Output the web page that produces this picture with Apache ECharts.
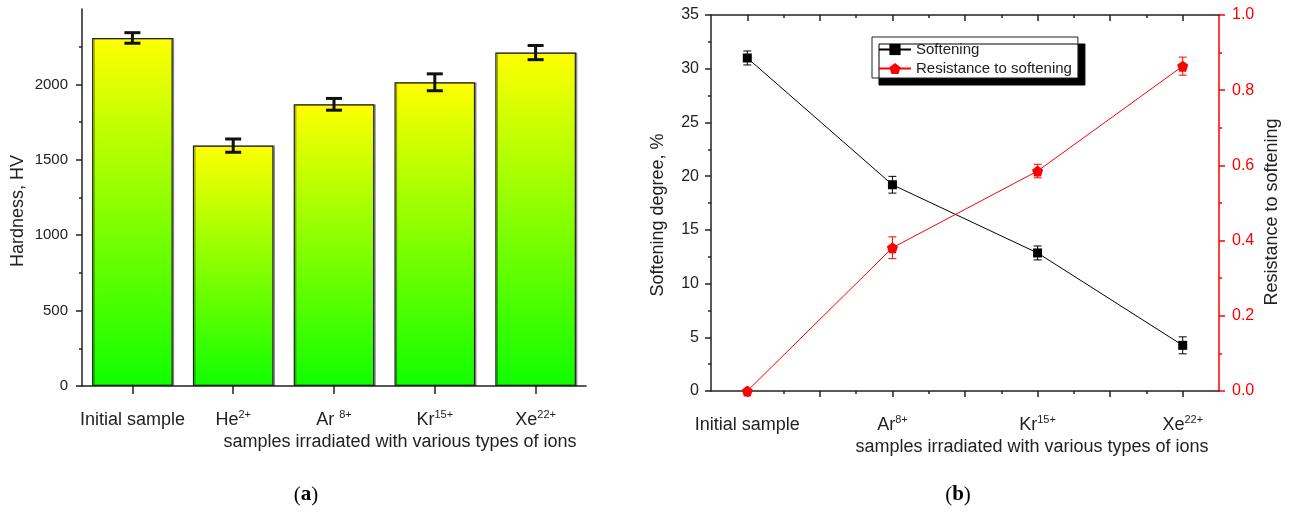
<!DOCTYPE html>
<html>
<head>
<meta charset="utf-8">
<script src="https://cdn.jsdelivr.net/npm/echarts@6/dist/echarts.min.js"></script>
<style>
html,body{margin:0;padding:0;background:#fff;}
#main{width:1290px;height:513px;}
</style>
</head>
<body>
<div id="main"></div>
<script>
// panel (a)
var catsA = ['Initial sample', 'He', 'Ar ', 'Kr', 'Xe'];
var chargeA = ['', '2+', '8+', '15+', '22+'];
var hardness = [2308, 1594, 1868, 2014, 2211];
var hardnessErr = [35, 44, 39, 56, 47];

// panel (b)
var catsB = ['Initial sample', 'Ar', 'Kr', 'Xe'];
var chargeB = ['', '8+', '15+', '22+'];
var softening = [31.0, 19.2, 12.85, 4.25];
var softeningErr = [0.65, 0.78, 0.65, 0.79];
var resistance = [0, 0.381, 0.585, 0.864];
var resistanceErr = [0, 0.029, 0.018, 0.024];

var font = "'Liberation Sans', Arial, sans-serif";
var pentagon = 'path://M0,-10 L9.51,-3.09 L5.88,8.09 L-5.88,8.09 L-9.51,-3.09 Z';

function supLabel(name, ch){
    return ch ? name + '{sup|' + ch + '}' : name;
}
var richSup = {
    sup: {fontSize: 11, lineHeight: 12, verticalAlign: 'top', color: '#222', fontFamily: font}
};

function errBar(cap, width, color){
    return function(params, api){
        var x = api.value(0), y = api.value(1), e = api.value(2);
        if(!e) return null;
        var t = api.coord([x, y + e]);
        var b = api.coord([x, y - e]);
        var st = {stroke: color, lineWidth: width};
        return {type: 'group', children: [
            {type: 'line', shape: {x1: t[0], y1: t[1], x2: b[0], y2: b[1]}, style: st},
            {type: 'line', shape: {x1: t[0] - cap, y1: t[1], x2: t[0] + cap, y2: t[1]}, style: st},
            {type: 'line', shape: {x1: b[0] - cap, y1: b[1], x2: b[0] + cap, y2: b[1]}, style: st}
        ]};
    };
}

var barData = hardness.map(function(v, i){ return [i, v, hardnessErr[i]]; });
var softData = softening.map(function(v, i){ return [i + 1, v]; });
var softErrData = softening.map(function(v, i){ return [i + 1, v, softeningErr[i]]; });
var resData = resistance.map(function(v, i){ return [i + 1, v]; });
var resErrData = resistance.map(function(v, i){ return [i + 1, v, resistanceErr[i]]; });

var blackLine = {lineStyle: {color: '#222', width: 1.5}};
var myChart = echarts.init(document.getElementById('main'));

var option = {
    animation: false,
    textStyle: {fontFamily: font},
    grid: [
        {left: 82, right: 704, top: 9, bottom: 127},
        {left: 711, right: 71, top: 15, bottom: 122}
    ],
    legend: {
        left: 872, top: 37,
        orient: 'vertical',
        data: ['Softening', 'Resistance to softening'],
        itemWidth: 32, itemHeight: 14, itemGap: 4,
        padding: [5, 6, 2, 6],
        backgroundColor: '#fff',
        borderColor: '#222', borderWidth: 1, borderRadius: 0,
        shadowColor: '#000', shadowOffsetX: 7, shadowOffsetY: 7, shadowBlur: 0,
        textStyle: {fontSize: 15, color: '#222', fontFamily: font}
    },
    xAxis: [
        {
            type: 'category', gridIndex: 0, data: catsA,
            axisLine: blackLine,
            axisTick: {length: 3, lineStyle: {color: '#222', width: 1.5}},
            axisLabel: {
                interval: 0, margin: 23, fontSize: 18, lineHeight: 22, color: '#222',
                formatter: function(v, i){ return supLabel(v, chargeA[i]); },
                rich: richSup
            }
        },
        {
            type: 'value', gridIndex: 0, min: 0, max: 5, position: 'bottom',
            axisLine: {show: false}, splitLine: {show: false}, axisLabel: {show: false},
            axisTick: {show: true, length: 8, customValues: [0.5, 1.5, 2.5, 3.5, 4.5],
                lineStyle: {color: '#222', width: 1.5}}
        },
        {
            type: 'value', gridIndex: 1, min: 0.75, max: 4.25, position: 'bottom',
            axisLine: blackLine, splitLine: {show: false},
            axisTick: {length: 6, customValues: [1, 1.5, 2, 2.5, 3, 3.5, 4],
                lineStyle: {color: '#222', width: 1.5}},
            axisLabel: {
                customValues: [1, 2, 3, 4],
                margin: 23, fontSize: 18, lineHeight: 22, color: '#222',
                formatter: function(v){ var i = Math.round(v) - 1; return supLabel(catsB[i], chargeB[i]); },
                rich: richSup
            }
        },
        {
            type: 'value', gridIndex: 1, min: 0.75, max: 4.25, position: 'bottom',
            axisLine: {show: false}, splitLine: {show: false}, axisLabel: {show: false},
            axisTick: {length: 3, customValues: [1.25, 1.75, 2.25, 2.75, 3.25, 3.75],
                lineStyle: {color: '#222', width: 1.5}}
        },
        {
            type: 'value', gridIndex: 1, min: 0.75, max: 4.25, position: 'top',
            axisLine: blackLine, splitLine: {show: false}, axisLabel: {show: false},
            axisTick: {inside: true, length: 6, customValues: [1, 1.5, 2, 2.5, 3, 3.5, 4],
                lineStyle: {color: '#222', width: 1.5}}
        },
        {
            type: 'value', gridIndex: 1, min: 0.75, max: 4.25, position: 'top',
            axisLine: {show: false}, splitLine: {show: false}, axisLabel: {show: false},
            axisTick: {inside: true, length: 3, customValues: [1.25, 1.75, 2.25, 2.75, 3.25, 3.75],
                lineStyle: {color: '#222', width: 1.5}}
        }
    ],
    yAxis: [
        {
            type: 'value', gridIndex: 0, min: 0, max: 2500, interval: 500,
            axisLine: {show: true, lineStyle: {color: '#222', width: 1.5}},
            splitLine: {show: false},
            axisTick: {show: true, length: 6, customValues: [0, 500, 1000, 1500, 2000],
                lineStyle: {color: '#222', width: 1.5}},
            minorTick: {show: true, splitNumber: 2, length: 3, lineStyle: {color: '#222', width: 1.5}},
            axisLabel: {customValues: [0, 500, 1000, 1500, 2000], fontSize: 15, color: '#222', margin: 14,
                formatter: function(v){ return String(v); }}
        },
        {
            type: 'value', gridIndex: 1, min: 0, max: 35, interval: 5,
            axisLine: {show: true, lineStyle: {color: '#222', width: 1.5}},
            splitLine: {show: false},
            axisTick: {show: true, length: 6, lineStyle: {color: '#222', width: 1.5}},
            minorTick: {show: true, splitNumber: 2, length: 3, lineStyle: {color: '#222', width: 1.5}},
            axisLabel: {fontSize: 16, color: '#222', margin: 12}
        },
        {
            type: 'value', gridIndex: 1, min: 0, max: 1, interval: 0.2, position: 'right',
            axisLine: {show: true, lineStyle: {color: '#ff0000', width: 1.5}},
            splitLine: {show: false},
            axisTick: {show: true, length: 6, lineStyle: {color: '#ff0000', width: 1.5}},
            minorTick: {show: true, splitNumber: 2, length: 3, lineStyle: {color: '#ff0000', width: 1.5}},
            axisLabel: {fontSize: 16, color: '#ff0000', margin: 13,
                formatter: function(v){ return v.toFixed(1); }}
        }
    ],
    graphic: [
        {type: 'text', x: 18, y: 211, rotation: Math.PI / 2,
            style: {text: 'Hardness, HV', font: '18px ' + font, fill: '#222', align: 'center', verticalAlign: 'middle'}},
        {type: 'text', x: 400, y: 442,
            style: {text: 'samples irradiated with various types of ions', font: '18px ' + font, fill: '#222', align: 'center', verticalAlign: 'middle'}},
        {type: 'text', x: 658, y: 215, rotation: Math.PI / 2,
            style: {text: 'Softening degree, %', font: '18px ' + font, fill: '#222', align: 'center', verticalAlign: 'middle'}},
        {type: 'text', x: 1272, y: 212, rotation: Math.PI / 2,
            style: {text: 'Resistance to softening', font: '18px ' + font, fill: '#222', align: 'center', verticalAlign: 'middle'}},
        {type: 'text', x: 1032, y: 447,
            style: {text: 'samples irradiated with various types of ions', font: '18px ' + font, fill: '#222', align: 'center', verticalAlign: 'middle'}},
        {type: 'text', x: 306, y: 495,
            style: {text: '({b|a})', font: '21px "Liberation Serif", serif', fill: '#000', align: 'center', verticalAlign: 'middle',
                rich: {b: {fontWeight: 'bold', fontSize: 21, fontFamily: '"Liberation Serif", serif'}}}},
        {type: 'text', x: 958, y: 495,
            style: {text: '({b|b})', font: '21px "Liberation Serif", serif', fill: '#000', align: 'center', verticalAlign: 'middle',
                rich: {b: {fontWeight: 'bold', fontSize: 21, fontFamily: '"Liberation Serif", serif'}}}}
    ],
    series: [
        {
            type: 'bar', xAxisIndex: 0, yAxisIndex: 0,
            data: hardness, barWidth: '80%',
            itemStyle: {
                color: new echarts.graphic.LinearGradient(0, 0, 0, 1, [
                    {offset: 0, color: '#ffff00'},
                    {offset: 1, color: '#10ff00'}
                ]),
                borderColor: '#222', borderWidth: 1.2,
                shadowColor: 'rgba(0,0,0,0.35)', shadowOffsetX: 1.5, shadowBlur: 0
            }
        },
        {
            type: 'custom', xAxisIndex: 0, yAxisIndex: 0, z: 5,
            data: barData, renderItem: errBar(8, 3, '#111')
        },
        {
            name: 'Softening', type: 'line', xAxisIndex: 2, yAxisIndex: 1,
            data: softData, symbol: 'rect', symbolSize: 9,
            lineStyle: {color: '#000', width: 1}, itemStyle: {color: '#000'}, z: 4
        },
        {
            type: 'custom', xAxisIndex: 2, yAxisIndex: 1, z: 3,
            data: softErrData, renderItem: errBar(4, 1, '#000')
        },
        {
            name: 'Resistance to softening', type: 'line', xAxisIndex: 2, yAxisIndex: 2,
            data: resData, symbol: pentagon, symbolSize: 11, clip: false,
            lineStyle: {color: '#ff0000', width: 1}, itemStyle: {color: '#ff0000'}, z: 4
        },
        {
            type: 'custom', xAxisIndex: 2, yAxisIndex: 2, z: 3,
            data: resErrData, renderItem: errBar(4, 1, '#ff0000')
        }
    ]
};
myChart.setOption(option);
</script>
</body>
</html>
